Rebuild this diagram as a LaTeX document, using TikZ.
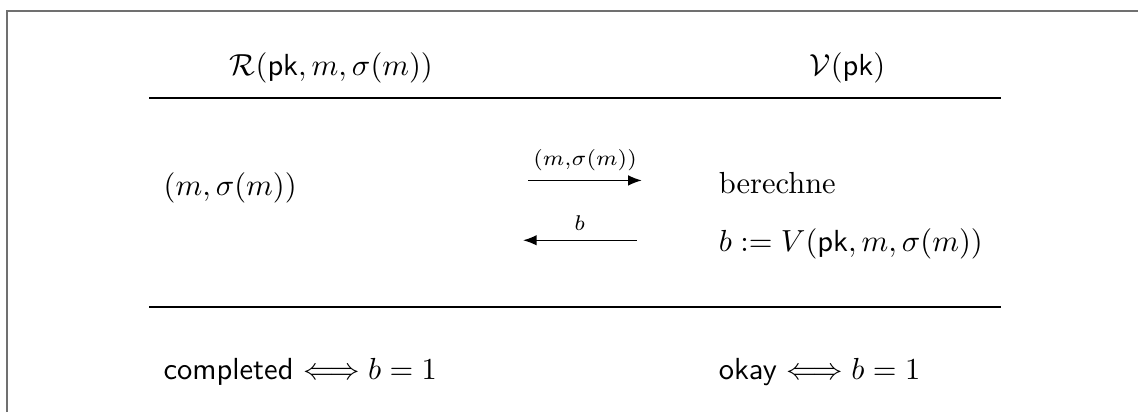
\documentclass[tikz,border=0pt]{standalone}
\usetikzlibrary{arrows.meta, positioning}
\usepackage{amsmath}
\definecolor{frameGray}{HTML}{707070}

\begin{document}
\begin{tikzpicture}[
    txt/.style={inner sep=0pt, anchor=base west},
    head/.style={inner sep=0pt, anchor=base},
    rule/.style={line width=0.6pt},
    msg/.style={-{Latex[length=4.5pt, width=3.5pt]}, line width=0.5pt},
    lbl/.style={inner sep=3pt},
  ]
    \useasboundingbox (0,0) rectangle (13.12,-4.75);
    \draw[frameGray, line width=0.8pt] (0.08,-4.75) |- (13.12,-0.127);

    % Kopfzeile
    \node[head] (rhead) at (3.82,-0.865) {$\mathcal{R}(\mathsf{pk}, m, \sigma(m))$};
    \node[head] (vhead) at (9.77,-0.865) {$\mathcal{V}(\mathsf{pk})$};
    \draw[rule] (1.72,-1.13) -- (11.54,-1.13);

    % Nachrichten
    \node[txt] (sig) at (1.88,-2.25) {$(m, \sigma(m))$};
    \node[txt] (calc) at (8.28,-2.225) {berechne};
    \node[txt] (verify) at (8.28,-2.905) {$b := V(\mathsf{pk}, m, \sigma(m))$};

    \coordinate (sendA) at (6.09,-2.08);
    \coordinate (sendB) at (7.40,-2.08);
    \coordinate (backA) at (7.34,-2.77);
    \coordinate (backB) at (6.03,-2.77);
    \draw[msg] (sendA) -- node[above, lbl] (lsig) {$\scriptstyle (m,\sigma(m))$} (sendB);
    \draw[msg] (backA) -- node[above, lbl] (lb) {$\scriptstyle b$} (backB);

    \draw[rule] (1.72,-3.54) -- (11.54,-3.54);

    % Ausgabe
    \node[txt] (rout) at (1.88,-4.38) {\textsf{completed} $\Longleftrightarrow b = 1$};
    \node[txt] (vout) at (8.28,-4.38) {\textsf{okay} $\Longleftrightarrow b = 1$};
\end{tikzpicture}
\end{document}
